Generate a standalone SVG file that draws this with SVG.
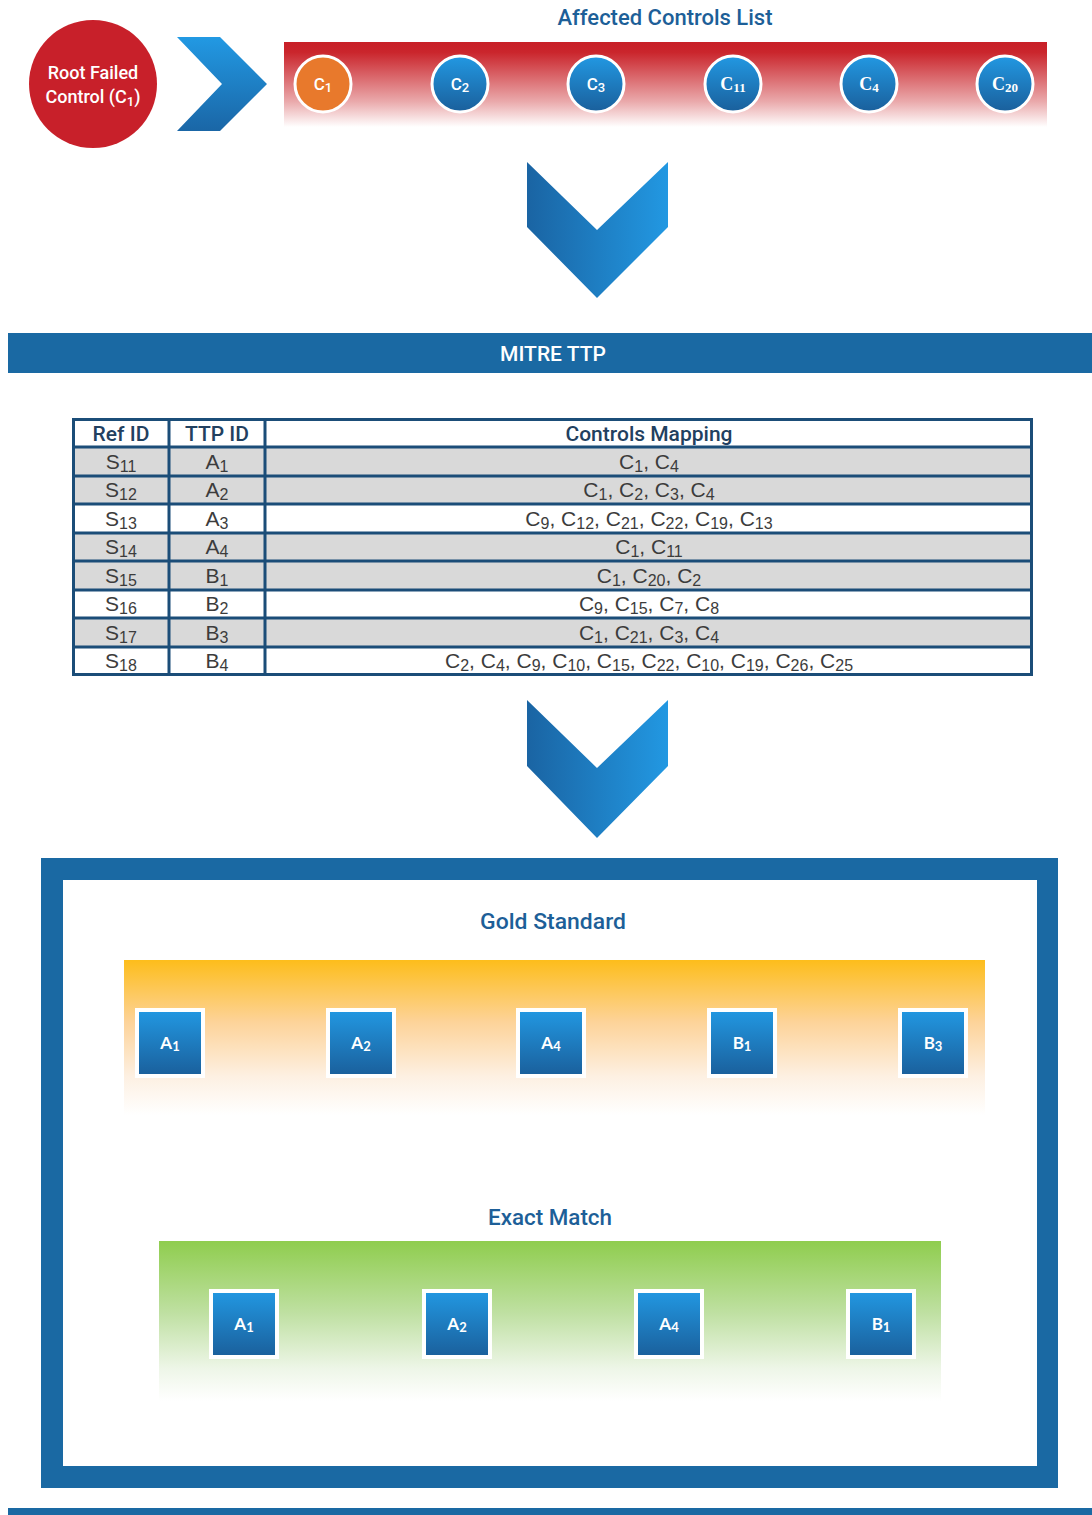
<svg xmlns="http://www.w3.org/2000/svg" width="1092" height="1515" viewBox="0 0 1092 1515">
  <defs>
    <linearGradient id="gRed" x1="0" y1="0" x2="0" y2="1">
      <stop offset="0" stop-color="#c81f27"/>
      <stop offset="0.12" stop-color="#ca252c"/>
      <stop offset="0.7" stop-color="#eaa9ab"/>
      <stop offset="1" stop-color="#ffffff"/>
    </linearGradient>
    <linearGradient id="gGold" x1="0" y1="0" x2="0" y2="1">
      <stop offset="0" stop-color="#fdbd1b"/>
      <stop offset="0.4" stop-color="#fdd399"/>
      <stop offset="0.75" stop-color="#fdf0e2"/>
      <stop offset="1" stop-color="#ffffff"/>
    </linearGradient>
    <linearGradient id="gGreen" x1="0" y1="0" x2="0" y2="1">
      <stop offset="0" stop-color="#8fcd4e"/>
      <stop offset="0.45" stop-color="#bfe0a2"/>
      <stop offset="0.8" stop-color="#eef6e8"/>
      <stop offset="1" stop-color="#ffffff"/>
    </linearGradient>
    <linearGradient id="gBlueV" x1="0" y1="0" x2="0" y2="1">
      <stop offset="0" stop-color="#2298e2"/>
      <stop offset="1" stop-color="#1a5f9b"/>
    </linearGradient>
    <linearGradient id="gChevR" x1="0" y1="0" x2="0" y2="1">
      <stop offset="0" stop-color="#2299e3"/>
      <stop offset="1" stop-color="#1a66a6"/>
    </linearGradient>
    <linearGradient id="gChevD" x1="0" y1="0" x2="1" y2="0">
      <stop offset="0" stop-color="#1a64a3"/>
      <stop offset="1" stop-color="#2298e2"/>
    </linearGradient>
    <style>
      .title { font-family: Roboto, "Liberation Sans", Arial, sans-serif; font-weight: 500; font-size: 22px; fill: #1d5f98; text-anchor: middle; }
      .ctl { stroke: #ffffff; stroke-width: 3; }
      .clab { font-family: Roboto, "Liberation Sans", Arial, sans-serif; font-weight: 500; font-size: 17px; fill: #ffffff; text-anchor: middle; }
      .clabs { font-family: "Liberation Serif", "Times New Roman", serif; font-size: 18px; font-weight: bold; fill: #ffffff; text-anchor: middle; }
      .sub { font-size: 13px; }
      .tsub { font-size: 16px; }
      .grid { fill: none; stroke: #1b4d78; stroke-width: 3; }
      .th { font-family: Roboto, "Liberation Sans", Arial, sans-serif; font-weight: 500; font-size: 21px; fill: #22405f; text-anchor: middle; }
      .td { font-family: "Liberation Sans", Arial, sans-serif; font-size: 21px; fill: #3c3c3c; text-anchor: middle; }
      .frame { fill: #1a69a3; }
      .ttp { stroke: #ffffff; stroke-width: 4; }
      .tlab { font-family: Lato, "Liberation Sans", Arial, sans-serif; font-weight: bold; font-size: 17px; fill: #ffffff; text-anchor: middle; }
    </style>
  </defs>

  <rect width="1092" height="1515" fill="#ffffff"/>

  <!-- root failed control -->
  <g id="root">
    <circle cx="93" cy="84" r="64" fill="#c8202a"/>
    <text x="93" y="79" font-family="Roboto, Liberation Sans, Arial, sans-serif" font-weight="500" font-size="18" fill="#ffffff" text-anchor="middle">Root Failed</text>
    <text x="93" y="103" font-family="Roboto, Liberation Sans, Arial, sans-serif" font-weight="500" font-size="18" fill="#ffffff" text-anchor="middle">Control (C<tspan font-size="13" dy="3">1</tspan><tspan dy="-3">)</tspan></text>
  </g>

  <!-- connectors: chevrons between stages -->
  <g id="connectors">
    <polygon points="177,37 220,37 267,84 220,131 177,131 222,84" fill="url(#gChevR)"/>
    <polygon points="527,162 597,230 668,162 668,227 597,298 527,227" fill="url(#gChevD)"/>
    <polygon points="527,700 597,768 668,700 668,766 597,838 527,766" fill="url(#gChevD)"/>
  </g>

  <!-- affected controls list -->
  <g id="affected">
    <text class="title" x="665" y="25" textLength="215" lengthAdjust="spacingAndGlyphs">Affected Controls List</text>
    <rect x="284" y="42" width="763" height="85" fill="url(#gRed)"/>
    <g id="c1"><circle class="ctl" cx="323" cy="84" r="28" fill="#e8792c"/><text class="clab" x="323" y="90">C<tspan class="sub" dy="2">1</tspan></text></g>
    <g id="c2"><circle class="ctl" cx="460" cy="84" r="28" fill="url(#gBlueV)"/><text class="clab" x="460" y="90">C<tspan class="sub" dy="2">2</tspan></text></g>
    <g id="c3"><circle class="ctl" cx="596" cy="84" r="28" fill="url(#gBlueV)"/><text class="clab" x="596" y="90">C<tspan class="sub" dy="2">3</tspan></text></g>
    <g id="c11"><circle class="ctl" cx="733" cy="84" r="28" fill="url(#gBlueV)"/><text class="clabs" x="733" y="90">C<tspan class="sub" dy="2">11</tspan></text></g>
    <g id="c4"><circle class="ctl" cx="869" cy="84" r="28" fill="url(#gBlueV)"/><text class="clabs" x="869" y="90">C<tspan class="sub" dy="2">4</tspan></text></g>
    <g id="c20"><circle class="ctl" cx="1005" cy="84" r="28" fill="url(#gBlueV)"/><text class="clabs" x="1005" y="90">C<tspan class="sub" dy="2">20</tspan></text></g>
  </g>

  <!-- MITRE TTP banner -->
  <g id="mitre">
    <rect x="8" y="333" width="1084" height="40" fill="#1a69a3"/>
    <text x="553" y="361" font-family="Roboto, Liberation Sans, Arial, sans-serif" font-weight="500" font-size="21" fill="#ffffff" text-anchor="middle">MITRE TTP</text>
  </g>

  <!-- TTP mapping table -->
  <g id="table">
    <rect x="72" y="447" width="961" height="57" fill="#d9d9d9"/>
    <rect x="72" y="533" width="961" height="57" fill="#d9d9d9"/>
    <rect x="72" y="618" width="961" height="29" fill="#d9d9d9"/>
    <rect class="grid" x="73.5" y="419.5" width="958" height="255"/>
    <path class="grid" d="M169,419 V675 M265,419 V675 M73,447 H1032 M73,476 H1032 M73,504 H1032 M73,533 H1032 M73,561 H1032 M73,590 H1032 M73,618 H1032 M73,647 H1032"/>
    <text class="th" x="121" y="441">Ref ID</text>
    <text class="th" x="217" y="441">TTP ID</text>
    <text class="th" x="649" y="441">Controls Mapping</text>

    <text class="td" x="121" y="469">S<tspan class="tsub" dy="3">11</tspan></text>
    <text class="td" x="121" y="497">S<tspan class="tsub" dy="3">12</tspan></text>
    <text class="td" x="121" y="526">S<tspan class="tsub" dy="3">13</tspan></text>
    <text class="td" x="121" y="554">S<tspan class="tsub" dy="3">14</tspan></text>
    <text class="td" x="121" y="583">S<tspan class="tsub" dy="3">15</tspan></text>
    <text class="td" x="121" y="611">S<tspan class="tsub" dy="3">16</tspan></text>
    <text class="td" x="121" y="640">S<tspan class="tsub" dy="3">17</tspan></text>
    <text class="td" x="121" y="668">S<tspan class="tsub" dy="3">18</tspan></text>

    <text class="td" x="217" y="469">A<tspan class="tsub" dy="3">1</tspan></text>
    <text class="td" x="217" y="497">A<tspan class="tsub" dy="3">2</tspan></text>
    <text class="td" x="217" y="526">A<tspan class="tsub" dy="3">3</tspan></text>
    <text class="td" x="217" y="554">A<tspan class="tsub" dy="3">4</tspan></text>
    <text class="td" x="217" y="583">B<tspan class="tsub" dy="3">1</tspan></text>
    <text class="td" x="217" y="611">B<tspan class="tsub" dy="3">2</tspan></text>
    <text class="td" x="217" y="640">B<tspan class="tsub" dy="3">3</tspan></text>
    <text class="td" x="217" y="668">B<tspan class="tsub" dy="3">4</tspan></text>

    <text class="td" x="649" y="469">C<tspan class="tsub" dy="3">1</tspan><tspan dy="-3">, C</tspan><tspan class="tsub" dy="3">4</tspan></text>
    <text class="td" x="649" y="497">C<tspan class="tsub" dy="3">1</tspan><tspan dy="-3">, C</tspan><tspan class="tsub" dy="3">2</tspan><tspan dy="-3">, C</tspan><tspan class="tsub" dy="3">3</tspan><tspan dy="-3">, C</tspan><tspan class="tsub" dy="3">4</tspan></text>
    <text class="td" x="649" y="526">C<tspan class="tsub" dy="3">9</tspan><tspan dy="-3">, C</tspan><tspan class="tsub" dy="3">12</tspan><tspan dy="-3">, C</tspan><tspan class="tsub" dy="3">21</tspan><tspan dy="-3">, C</tspan><tspan class="tsub" dy="3">22</tspan><tspan dy="-3">, C</tspan><tspan class="tsub" dy="3">19</tspan><tspan dy="-3">, C</tspan><tspan class="tsub" dy="3">13</tspan></text>
    <text class="td" x="649" y="554">C<tspan class="tsub" dy="3">1</tspan><tspan dy="-3">, C</tspan><tspan class="tsub" dy="3">11</tspan></text>
    <text class="td" x="649" y="583">C<tspan class="tsub" dy="3">1</tspan><tspan dy="-3">, C</tspan><tspan class="tsub" dy="3">20</tspan><tspan dy="-3">, C</tspan><tspan class="tsub" dy="3">2</tspan></text>
    <text class="td" x="649" y="611">C<tspan class="tsub" dy="3">9</tspan><tspan dy="-3">, C</tspan><tspan class="tsub" dy="3">15</tspan><tspan dy="-3">, C</tspan><tspan class="tsub" dy="3">7</tspan><tspan dy="-3">, C</tspan><tspan class="tsub" dy="3">8</tspan></text>
    <text class="td" x="649" y="640">C<tspan class="tsub" dy="3">1</tspan><tspan dy="-3">, C</tspan><tspan class="tsub" dy="3">21</tspan><tspan dy="-3">, C</tspan><tspan class="tsub" dy="3">3</tspan><tspan dy="-3">, C</tspan><tspan class="tsub" dy="3">4</tspan></text>
    <text class="td" x="649" y="668">C<tspan class="tsub" dy="3">2</tspan><tspan dy="-3">, C</tspan><tspan class="tsub" dy="3">4</tspan><tspan dy="-3">, C</tspan><tspan class="tsub" dy="3">9</tspan><tspan dy="-3">, C</tspan><tspan class="tsub" dy="3">10</tspan><tspan dy="-3">, C</tspan><tspan class="tsub" dy="3">15</tspan><tspan dy="-3">, C</tspan><tspan class="tsub" dy="3">22</tspan><tspan dy="-3">, C</tspan><tspan class="tsub" dy="3">10</tspan><tspan dy="-3">, C</tspan><tspan class="tsub" dy="3">19</tspan><tspan dy="-3">, C</tspan><tspan class="tsub" dy="3">26</tspan><tspan dy="-3">, C</tspan><tspan class="tsub" dy="3">25</tspan></text>
  </g>

  <!-- results frame -->
  <g id="results">
    <rect class="frame" x="41" y="858" width="1017" height="630"/>
    <rect x="63" y="880" width="974" height="586" fill="#ffffff"/>
  </g>

  <!-- gold standard set -->
  <g id="gold">
    <text class="title" x="553" y="929" textLength="146" lengthAdjust="spacingAndGlyphs">Gold Standard</text>
    <rect x="124" y="960" width="861" height="155" fill="url(#gGold)"/>
    <g id="g-a1"><rect class="ttp" x="137" y="1010" width="66" height="66" fill="url(#gBlueV)"/><text class="tlab" x="170" y="1049">A<tspan class="sub" dy="2">1</tspan></text></g>
    <g id="g-a2"><rect class="ttp" x="328" y="1010" width="66" height="66" fill="url(#gBlueV)"/><text class="tlab" x="361" y="1049">A<tspan class="sub" dy="2">2</tspan></text></g>
    <g id="g-a4"><rect class="ttp" x="518" y="1010" width="66" height="66" fill="url(#gBlueV)"/><text class="tlab" x="551" y="1049">A<tspan class="sub" dy="2">4</tspan></text></g>
    <g id="g-b1"><rect class="ttp" x="709" y="1010" width="66" height="66" fill="url(#gBlueV)"/><text class="tlab" x="742" y="1049">B<tspan class="sub" dy="2">1</tspan></text></g>
    <g id="g-b3"><rect class="ttp" x="900" y="1010" width="66" height="66" fill="url(#gBlueV)"/><text class="tlab" x="933" y="1049">B<tspan class="sub" dy="2">3</tspan></text></g>
  </g>

  <!-- exact match set -->
  <g id="exact">
    <text class="title" x="550" y="1225" textLength="124" lengthAdjust="spacingAndGlyphs">Exact Match</text>
    <rect x="159" y="1241" width="782" height="160" fill="url(#gGreen)"/>
    <g id="e-a1"><rect class="ttp" x="211" y="1291" width="66" height="66" fill="url(#gBlueV)"/><text class="tlab" x="244" y="1330">A<tspan class="sub" dy="2">1</tspan></text></g>
    <g id="e-a2"><rect class="ttp" x="424" y="1291" width="66" height="66" fill="url(#gBlueV)"/><text class="tlab" x="457" y="1330">A<tspan class="sub" dy="2">2</tspan></text></g>
    <g id="e-a4"><rect class="ttp" x="636" y="1291" width="66" height="66" fill="url(#gBlueV)"/><text class="tlab" x="669" y="1330">A<tspan class="sub" dy="2">4</tspan></text></g>
    <g id="e-b1"><rect class="ttp" x="848" y="1291" width="66" height="66" fill="url(#gBlueV)"/><text class="tlab" x="881" y="1330">B<tspan class="sub" dy="2">1</tspan></text></g>
  </g>

  <!-- footer rule -->
  <rect x="8" y="1508" width="1084" height="7" fill="#1a69a3"/>
</svg>
